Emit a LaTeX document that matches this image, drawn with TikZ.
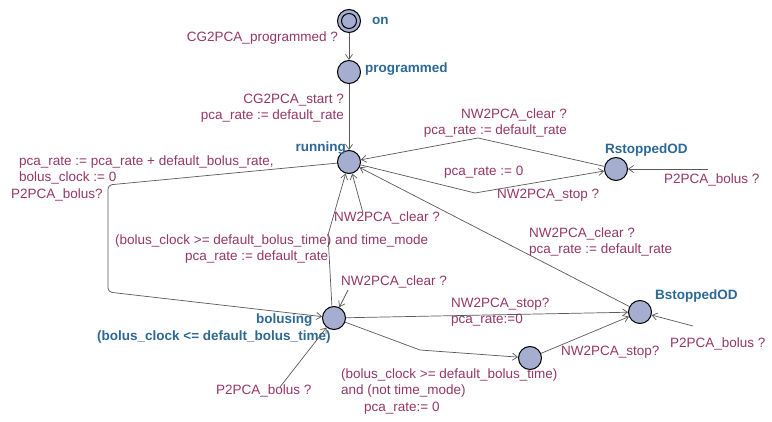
\documentclass[tikz,border=0pt]{standalone}
\usepackage{fontspec}
\setmainfont{Liberation Sans}
\usetikzlibrary{arrows.meta}
\definecolor{locfill}{RGB}{165,173,208}
\definecolor{locname}{RGB}{45,105,150}
\definecolor{lblcol}{RGB}{150,55,105}
\definecolor{edgecol}{RGB}{90,90,90}
\begin{document}
\begin{tikzpicture}[x=1pt,y=-1pt,
  loc/.style={circle, draw=black, line width=1pt, fill=locfill, minimum size=23pt, inner sep=0pt},
  locname/.style={text=locname, font=\fontsize{13.5}{15.5}\selectfont\bfseries, inner sep=0pt},
  lbl/.style={text=lblcol, font=\fontsize{13.5}{15.5}\selectfont, inner sep=0pt},
  trans/.style={draw=edgecol, line width=0.7pt, -{Straight Barb[length=5pt,width=7pt]}}]
\useasboundingbox[fill=white] (0,0) rectangle (772,422);

% locations
\node[loc] (on)   at (349,21)  {};
\draw[line width=1pt] (on.center) circle[radius=7.5pt];
\node[loc] (prog) at (349,72)  {};
\node[loc] (run)  at (349,162) {};
\node[loc] (rst)  at (616,169) {};
\node[loc] (bst)  at (640,312) {};
\node[loc] (bol)  at (334,318) {};
\node[loc] (mid)  at (530,358) {};

% location names
\node[locname, anchor=west] (onname)   at (372,21)  {on};
\node[locname, anchor=west] (progname) at (365,69)  {programmed};
\node[locname, anchor=east] (runname)  at (346,148) {running};
\node[locname, anchor=west] (rstname)  at (605,150) {RstoppedOD};
\node[locname, anchor=west] (bstname)  at (655,296) {BstoppedOD};
\node[locname, anchor=west] (bolname)  at (256,320) {bolusing};
\node[locname, anchor=west] (bolinv)   at (97,337)  {(bolus\_clock <= default\_bolus\_time)};

% nails and free ends of the transitions
\coordinate (n1) at (478,138);
\coordinate (n2) at (475,193);
\coordinate (n3) at (108,185);
\coordinate (n4) at (108,292);
\coordinate (n5) at (420,350);
\coordinate (n6) at (328,235);
\coordinate (s1) at (708,169);
\coordinate (s2) at (363,213);
\coordinate (s3) at (348,290);
\coordinate (s4) at (280,387);
\coordinate (s5) at (693,326);

% transitions
\draw[trans] (on) -- (prog);
\draw[trans] (prog) -- (run);
\draw[trans] (rst) -- (n1) -- (run);
\draw[trans] (run) -- (n2) -- (rst);
\draw[trans] (s1) -- (rst);
\draw[trans] (bst) -- (run);
\draw[trans] (bol.100) -- (n6) -- (run);
\draw[trans] (s2) -- (run);
\draw[trans, rounded corners=4pt] (run) -- (n3) -- (n4) -- (bol);
\draw[trans] (s3) -- (bol);
\draw[trans] (s4) -- (bol);
\draw[trans] (bol) -- (bst);
\draw[trans] (bol) -- (n5) -- (mid);
\draw[trans] (mid) -- (bst);
\draw[trans] (s5) -- (bst);

% transition labels
\node[lbl, anchor=east] at (338,38) {CG2PCA\_programmed ?};
\node[lbl, anchor=east, align=right] at (344,108) {CG2PCA\_start ?\\pca\_rate := default\_rate};
\node[lbl, anchor=west, align=left] at (19,170) {pca\_rate := pca\_rate + default\_bolus\_rate,\\bolus\_clock := 0};
\node[lbl, anchor=west] at (11,195) {P2PCA\_bolus?};
\node[lbl, anchor=east, align=right] at (567,123) {NW2PCA\_clear ?\\pca\_rate := default\_rate};
\node[lbl, anchor=west] at (444,172) {pca\_rate := 0};
\node[lbl, anchor=west] at (497,195) {NW2PCA\_stop ?};
\node[lbl, anchor=west] at (664,180) {P2PCA\_bolus ?};
\node[lbl, anchor=west] at (334,218) {NW2PCA\_clear ?};
\node[lbl, anchor=west] at (115,241) {(bolus\_clock >= default\_bolus\_time) and time\_mode};
\node[lbl, anchor=west] at (185,257) {pca\_rate := default\_rate};
\node[lbl, anchor=west, align=left] at (529,242) {NW2PCA\_clear ?\\pca\_rate := default\_rate};
\node[lbl, anchor=west] at (341,282) {NW2PCA\_clear ?};
\node[lbl, anchor=west, align=left] at (451,312) {NW2PCA\_stop?\\pca\_rate:=0};
\node[lbl, anchor=west, align=left] at (341,383) {(bolus\_clock >= default\_bolus\_time)\\and (not time\_mode)};
\node[lbl, anchor=west] at (364,408) {pca\_rate:= 0};
\node[lbl, anchor=west] at (561,352) {NW2PCA\_stop?};
\node[lbl, anchor=west] at (216,391) {P2PCA\_bolus ?};
\node[lbl, anchor=west] at (670,344) {P2PCA\_bolus ?};
\end{tikzpicture}
\end{document}
